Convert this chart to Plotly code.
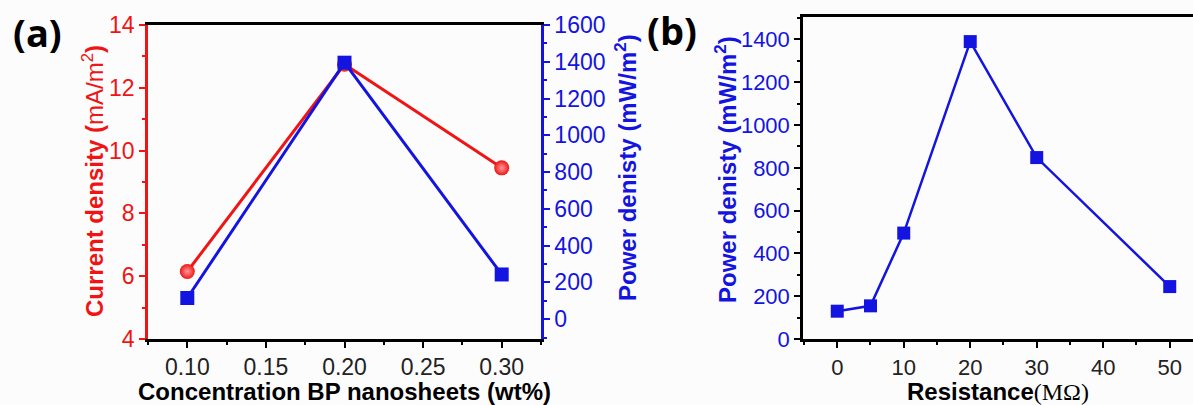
import plotly.graph_objects as go

# Panel (a): device output vs. BP nanosheet loading
conc_wt = [0.10, 0.20, 0.30]
current_density = [6.15, 12.75, 9.45]      # mA/m^2
power_density_a = [115, 1395, 243]         # mW/m^2

# Panel (b): power density vs. external load
resistance = [0, 5, 10, 20, 30, 50]        # MOhm
power_density_b = [130, 155, 495, 1390, 848, 245]

conc_ticks = [0.10, 0.15, 0.20, 0.25, 0.30]
conc_ticktext = ["0.10", "0.15", "0.20", "0.25", "0.30"]

W, H = 1193, 405
RED = "#f01414"
BLUE = "#1414e0"
FONT = "Liberation Sans, Arial, sans-serif"


def px(x):
    return x / W


def py(y):
    return 1 - y / H


fig = go.Figure()

fig.add_trace(go.Scatter(
    x=conc_wt, y=current_density, xaxis="x", yaxis="y",
    mode="lines+markers",
    line=dict(color=RED, width=3),
    marker=dict(symbol="circle", size=15, color=RED,
                gradient=dict(type="radial", color="#ff9c9c")),
    showlegend=False,
))
fig.add_trace(go.Scatter(
    x=conc_wt, y=power_density_a, xaxis="x", yaxis="y2",
    mode="lines+markers",
    line=dict(color=BLUE, width=3),
    marker=dict(symbol="square", size=14, color=BLUE),
    showlegend=False,
))
fig.add_trace(go.Scatter(
    x=resistance, y=power_density_b, xaxis="x2", yaxis="y3",
    mode="lines+markers",
    line=dict(color=BLUE, width=2.5),
    marker=dict(symbol="square", size=13, color=BLUE),
    showlegend=False,
))

tick_common = dict(ticks="outside", ticklen=6, tickwidth=2, showgrid=False,
                   zeroline=False, showline=True, linewidth=2.5,
                   automargin=False)

fig.update_layout(
    width=W, height=H,
    margin=dict(l=0, r=0, t=0, b=0),
    paper_bgcolor="#fcfcfc",
    plot_bgcolor="#fcfcfc",
    font=dict(family=FONT, size=23, color="black"),
    xaxis=dict(
        domain=[px(148), px(541)], range=[0.075, 0.325], anchor="y",
        tickvals=conc_ticks, ticktext=conc_ticktext,
        linecolor="black", tickcolor="black", mirror=True,
        tickfont=dict(size=23, color="#222"), ticklabelstandoff=0,
        minor=dict(dtick=0.025, tick0=0.075, ticks="outside", ticklen=3.5,
                   tickwidth=2, tickcolor="black"),
        title=dict(text="<b>Concentration BP nanosheets (wt%)</b>",
                   font=dict(size=24, color="black"), standoff=5),
        **tick_common,
    ),
    yaxis=dict(
        domain=[py(339), py(25)], range=[4, 14], anchor="x",
        dtick=2, tick0=4,
        linecolor=RED, tickcolor=RED,
        tickfont=dict(size=23, color=RED),
        minor=dict(dtick=1, ticks="outside", ticklen=3.5, tickwidth=2,
                   tickcolor=RED),
        **tick_common,
    ),
    yaxis2=dict(
        domain=[py(339), py(25)], range=[-108, 1600], anchor="x",
        overlaying="y", side="right",
        dtick=200, tick0=0,
        linecolor=BLUE, tickcolor=BLUE,
        tickfont=dict(size=23, color=BLUE),
        minor=dict(dtick=100, ticks="outside", ticklen=3.5, tickwidth=2,
                   tickcolor=BLUE),
        **tick_common,
    ),
    xaxis2=dict(
        domain=[px(803), 1.0], range=[-5.15, 53.5], anchor="y3",
        dtick=10, tick0=0,
        linecolor="black", tickcolor="black", mirror=True,
        tickfont=dict(size=22, color="#222"), ticklabelstandoff=1,
        minor=dict(dtick=5, ticks="outside", ticklen=3.5, tickwidth=2,
                   tickcolor="black"),
        title=dict(text="<b>Resistance</b><span style='font-family:Liberation Serif, serif'>(MΩ)</span>",
                   font=dict(size=24, color="black"), standoff=5),
        **tick_common,
    ),
    yaxis3=dict(
        domain=[py(339), py(17)], range=[0, 1505], anchor="x2",
        dtick=200, tick0=0,
        linecolor="black", tickcolor="black",
        tickfont=dict(size=22, color=BLUE),
        minor=dict(dtick=100, ticks="outside", ticklen=3.5, tickwidth=2,
                   tickcolor="black"),
        **tick_common,
    ),
)


def label(text, x, y, size=24, color="black", angle=0, family=FONT):
    fig.add_annotation(
        text=text, x=px(x), y=py(y), xref="paper", yref="paper",
        xanchor="center", yanchor="middle", showarrow=False, borderpad=0,
        textangle=angle, font=dict(size=size, color=color, family=family),
    )


# panel tags
label("<b>(a)</b>", 37, 32, size=38, family="Open Sans, sans-serif")
label("<b>(b)</b>", 672, 30, size=38, family="Open Sans, sans-serif")

# rotated y-axis titles
label("<b>Current density (</b>mA/m<sup>2</sup><b>)</b>", 93, 181,
      size=24, color=RED, angle=-90)
label("<b>Power denisty (mW/m<sup>2</sup>)</b>", 626, 168,
      size=24, color=BLUE, angle=-90)
label("<b>Power denisty (mW/m<sup>2</sup>)</b>", 726, 170,
      size=24, color=BLUE, angle=-90)

fig.write_html("out.html")
